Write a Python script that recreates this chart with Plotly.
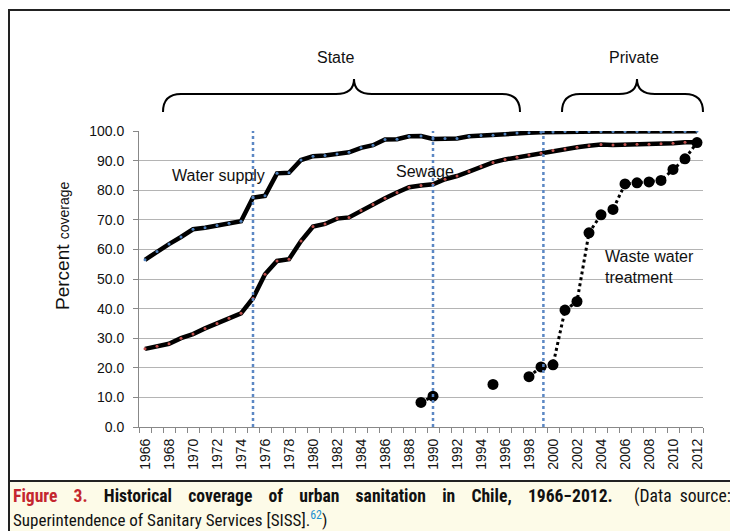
import plotly.graph_objects as go

# --- data -------------------------------------------------------------
years = list(range(1966, 2013))

water_supply = [
    56.5, 59.3, 61.8, 64.2, 66.8, 67.3, 68.1, 68.8, 69.5, 77.5,
    78.1, 85.7, 85.9, 90.2, 91.5, 91.7, 92.2, 92.8, 94.3, 95.2,
    97.1, 97.2, 98.2, 98.3, 97.3, 97.5, 97.5, 98.2, 98.5, 98.6,
    99.0, 99.3, 99.4, 99.6, 99.7, 99.8, 99.8, 99.8, 99.8, 99.8,
    99.8, 99.8, 99.8, 99.8, 99.8, 99.8, 99.9,
]

sewage = [
    26.4, 27.3, 28.1, 30.0, 31.4, 33.3, 35.0, 36.7, 38.4, 43.5,
    51.6, 56.1, 56.7, 62.8, 67.7, 68.6, 70.4, 70.8, 73.1, 75.2,
    77.3, 79.2, 81.0, 81.6, 82.0, 83.7, 84.8, 86.3, 88.0, 89.4,
    90.4, 91.1, 91.9, 92.5, 93.4, 93.9, 94.5, 95.0, 95.4, 95.3,
    95.4, 95.5, 95.5, 95.7, 95.9, 96.2, 96.2,
]

waste_water = [None] * 23 + [
    8.3, 10.4, None, None, None, None, 14.4, None, None, 17.0,
    20.3, 21.0, 39.5, 42.4, 65.6, 71.7, 73.5, 82.1, 82.5, 82.8,
    83.3, 87.0, 90.6, 96.1,
]

transition_years = [1975, 1990, 1999.2]
year_ticks = list(range(1966, 2013, 2))
y_ticks = [0, 10, 20, 30, 40, 50, 60, 70, 80, 90, 100]

# --- screen pixel -> paper helpers ---------------------------------------
# page body has an 8px margin, so the figure starts at (8, 8) on screen
OFF = 8
W, H = 738 - OFF, 531 - OFF
L, R, T, B = 139, 703, 131, 427   # plot area on screen


def px(x):
    return (x - L) / (R - L)


def py(y):
    return (B - y) / (B - T)


def brace(x0, xc, x1, ytop=79, ymid=94, yend=112, r=18):
    return (
        f"M {px(x0)},{py(yend)} Q {px(x0)},{py(ymid)} {px(x0 + r)},{py(ymid)} "
        f"L {px(xc - r)},{py(ymid)} Q {px(xc)},{py(ymid)} {px(xc)},{py(ytop)} "
        f"Q {px(xc)},{py(ymid)} {px(xc + r)},{py(ymid)} "
        f"L {px(x1 - r)},{py(ymid)} Q {px(x1)},{py(ymid)} {px(x1)},{py(yend)}"
    )


FONT = "Liberation Sans, Arial, sans-serif"
CAPTION_FONT = "Liberation Sans Narrow, Roboto Condensed, Liberation Sans, sans-serif"

fig = go.Figure()

# Water supply
fig.add_trace(go.Scatter(
    x=years, y=water_supply, mode='lines',
    line=dict(color='black', width=4.5)
))
fig.add_trace(go.Scatter(
    x=years, y=water_supply, mode='markers',
    marker=dict(color='#4f81bd', size=3)
))

# Sewage
fig.add_trace(go.Scatter(
    x=years, y=sewage, mode='lines',
    line=dict(color='black', width=4.5)
))
fig.add_trace(go.Scatter(
    x=years, y=sewage, mode='markers',
    marker=dict(color='#c0504d', size=3)
))

# Waste water treatment
fig.add_trace(go.Scatter(
    x=years, y=waste_water, mode='lines+markers',
    connectgaps=False,
    line=dict(color='black', width=3, dash='dot'),
    marker=dict(color='black', size=11)
))

# vertical dotted lines for transitions
for yr in transition_years:
    fig.add_shape(type='line', xref='x', yref='y', x0=yr, x1=yr, y0=0, y1=100,
                  line=dict(color='#5b87c4', width=2.5, dash='dot'), layer='above')

shapes = [
    # outer frame
    dict(type='rect', xref='paper', yref='paper',
         x0=px(9), x1=px(736), y0=py(10), y1=py(481),
         line=dict(color='#222', width=2), layer='below'),
    # caption background
    dict(type='rect', xref='paper', yref='paper',
         x0=px(9), x1=px(745), y0=py(482), y1=py(540),
         fillcolor='#fdfbe8', line=dict(width=0), layer='below'),
    dict(type='line', xref='paper', yref='paper',
         x0=px(9), x1=px(9), y0=py(481), y1=py(540),
         line=dict(color='#222', width=2)),
    # braces
    dict(type='path', xref='paper', yref='paper', path=brace(163, 354, 520),
         line=dict(color='black', width=2)),
    dict(type='path', xref='paper', yref='paper', path=brace(562, 637, 703),
         line=dict(color='black', width=2)),
]
for s in shapes:
    fig.add_shape(**s)

txt = dict(showarrow=False, xanchor='center', yanchor='middle')
annotations = [
    dict(x=1972.1, y=84.8, xref='x', yref='y', text='Water supply',
         font=dict(size=16, color='#111')),
    dict(x=1989.3, y=86.2, xref='x', yref='y', text='Sewage',
         font=dict(size=16, color='#111')),
    dict(x=px(335), y=py(58), xref='paper', yref='paper', text='State',
         font=dict(size=16, color='#111')),
    dict(x=px(634), y=py(58), xref='paper', yref='paper', text='Private',
         font=dict(size=16, color='#111')),
    dict(x=px(62), y=py(246), xref='paper', yref='paper', textangle=-90,
         text="Percent <span style='font-size:14px'>coverage</span>",
         font=dict(size=19, color='#111')),
]
for a in annotations:
    fig.add_annotation(**txt, **a)

fig.add_annotation(
    x=2004.2, y=54.2, xref='x', yref='y', text='Waste water<br>treatment',
    showarrow=False, xanchor='left', yanchor='middle', align='left',
    font=dict(size=16, color='#111'))

# caption: first line is justified in the source, so pad the word gaps
gap = " &nbsp;&nbsp;&nbsp;"
line1_words = ["<b><span style='color:#c4262e'>Figure", "3.</span>", "Historical", "coverage",
               "of", "urban", "sanitation", "in", "Chile,", "1966−2012.</b>"]
cap_font = dict(size=17.6, color='#111', family=CAPTION_FONT)
fig.add_annotation(x=px(11), y=py(496), xref='paper', yref='paper', xanchor='left',
                   yanchor='middle', text=gap.join(line1_words), showarrow=False, font=cap_font)
fig.add_annotation(x=px(733), y=py(496), xref='paper', yref='paper', xanchor='right',
                   yanchor='middle', text="(Data &nbsp;source:", showarrow=False, font=cap_font)
fig.add_annotation(
    x=px(11), y=py(519), xref='paper', yref='paper', xanchor='left', yanchor='middle',
    text="Superintendence of Sanitary Services [SISS].<sup><span style='color:#1a8fd0'>62</span></sup>)",
    showarrow=False, font=dict(size=17, color='#111', family=CAPTION_FONT))

fig.update_layout(
    template='none',
    width=W, height=H,
    margin=dict(l=L - OFF, r=738 - R, t=T - OFF, b=531 - B),
    showlegend=False,
    plot_bgcolor='white',
    paper_bgcolor='white',
    font=dict(family=FONT, size=14, color='#111'),
    xaxis=dict(
        range=[1965.5, 2012.5],
        tickvals=year_ticks,
        tickangle=-90,
        ticks='',
        showgrid=False,
        showline=True, linecolor='#888', linewidth=1,
        zeroline=False,
        ticklabelstandoff=5,
        minor=dict(tick0=1965.5, dtick=1, ticks='outside', ticklen=5,
                   tickcolor='#888', showgrid=False),
        tickfont=dict(size=14),
    ),
    yaxis=dict(
        range=[0, 100],
        tickvals=y_ticks,
        tickformat='.1f',
        ticks='outside', ticklen=5, tickcolor='#888',
        showgrid=True, gridcolor='#b4b4b4', gridwidth=1,
        showline=True, linecolor='#888', linewidth=1,
        zeroline=False,
        ticklabelstandoff=6,
        tickfont=dict(size=14),
    ),
)

fig.write_html("out.html")
